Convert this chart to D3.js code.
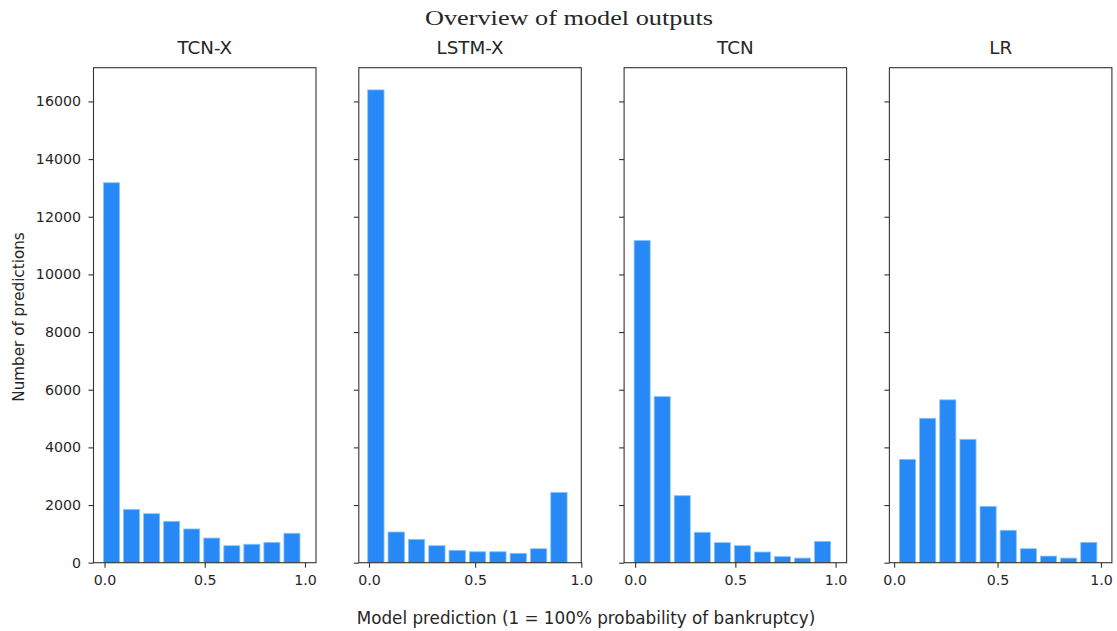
<!DOCTYPE html>
<html>
<head>
<meta charset="utf-8">
<script src="https://cdn.jsdelivr.net/npm/d3@7"></script>
<style>
  body { margin: 0; background: #fff; }
  svg text { fill: #262626; }
</style>
</head>
<body>
<svg id="chart" width="1117" height="631"></svg>
<script>
// models shown in each panel
let models = ["TCN-X", "LSTM-X", "TCN", "LR"];

// histogram counts, 10 bins per model
let countsTCNX = [13180, 1850, 1700, 1435, 1170, 855, 590, 640, 705, 1020];
let countsLSTMX = [16400, 1065, 810, 590, 430, 380, 380, 325, 485, 2440];
let countsTCN = [11180, 5760, 2325, 1055, 695, 590, 370, 210, 160, 740];
let countsLR = [3585, 5010, 5650, 4280, 1955, 1125, 485, 230, 160, 705];

// range of the prediction values for each model (first and last bin edge)
let binLo = [-0.015, -0.0155, -0.015, 0.016];
let binHi = [0.985, 0.9425, 0.985, 0.990];

// x limits of each panel
let xMin = [-0.055, -0.048, -0.055, -0.023];
let xMax = [1.055, 1.0, 1.055, 1.053];

let xTicks = [0, 0.5, 1.0];
let yTicks = [0, 2000, 4000, 6000, 8000, 10000, 12000, 14000, 16000];
let yMax = 17170;

let allCounts = [countsTCNX, countsLSTMX, countsTCN, countsLR];

(function() {
var svg = d3.select("#chart");

var plotTop = 67.7, plotBottom = 562.7, panelW = 222.5, firstLeft = 93.5, step = 265.3;

var y = d3.scaleLinear().domain([0, yMax]).range([plotBottom, plotTop]);

// title (latex-ish serif)
svg.append("text")
  .attr("x", 569).attr("y", 25)
  .attr("text-anchor", "middle")
  .attr("textLength", 288)
  .attr("lengthAdjust", "spacingAndGlyphs")
  .style("font-family", "'Liberation Serif', serif")
  .style("font-size", "22px")
  .text("Overview of model outputs");

models.forEach(function(name, i) {
  var left = firstLeft + i * step;
  var x = d3.scaleLinear().domain([xMin[i], xMax[i]]).range([left, left + panelW]);

  var counts = allCounts[i];
  var w = (binHi[i] - binLo[i]) / counts.length;
  var bins = counts.map(function(c, k) {
    return { x0: binLo[i] + k * w, x1: binLo[i] + (k + 1) * w, count: c };
  });

  var g = svg.append("g");

  // bars, inset by the white edge matplotlib draws around each patch
  g.selectAll("rect.bar")
    .data(bins)
    .enter().append("rect")
    .attr("class", "bar")
    .attr("x", function(d) { return x(d.x0) + 2; })
    .attr("width", function(d) { return x(d.x1) - x(d.x0) - 4; })
    .attr("y", function(d) { return y(d.count); })
    .attr("height", function(d) { return plotBottom - y(d.count); })
    .attr("fill", "#2689f5")
    .attr("stroke", "#8cc2fa")
    .attr("stroke-width", 0.8);

  // frame
  g.append("rect")
    .attr("x", left).attr("y", plotTop)
    .attr("width", panelW).attr("height", plotBottom - plotTop)
    .attr("fill", "none")
    .attr("stroke", "#333")
    .attr("stroke-width", 1.1);

  var xAxis = d3.axisBottom(x).tickValues(xTicks).tickFormat(d3.format(".1f")).tickSize(5).tickPadding(7);
  var gx = g.append("g")
    .attr("transform", "translate(0," + plotBottom + ")")
    .call(xAxis);
  gx.select(".domain").remove();

  var yAxis = d3.axisLeft(y).tickValues(yTicks).tickSize(5).tickPadding(7.5)
    .tickFormat(i === 0 ? d3.format("d") : function() { return ""; });
  var gy = g.append("g")
    .attr("transform", "translate(" + left + ",0)")
    .call(yAxis);
  gy.select(".domain").remove();

  [gx, gy].forEach(function(a) {
    a.selectAll("line").attr("stroke", "#333").attr("stroke-width", 1.1);
    a.selectAll("text")
      .style("font-family", "'DejaVu Sans', sans-serif")
      .style("font-size", "14.2px")
      .attr("fill", "#262626");
  });

  g.append("text")
    .attr("x", left + panelW / 2).attr("y", 54)
    .attr("text-anchor", "middle")
    .style("font-family", "'DejaVu Sans', sans-serif")
    .style("font-size", "18.3px")
    .text(name);
});

svg.append("text")
  .attr("transform", "translate(23.5,317) rotate(-90)")
  .attr("text-anchor", "middle")
  .style("font-family", "'DejaVu Sans', sans-serif")
  .style("font-size", "15.2px")
  .text("Number of predictions");

svg.append("text")
  .attr("x", 586).attr("y", 624)
  .attr("text-anchor", "middle")
  .style("font-family", "'DejaVu Sans', sans-serif")
  .style("font-size", "16.8px")
  .text("Model prediction (1 = 100% probability of bankruptcy)");
})();
</script>
</body>
</html>
